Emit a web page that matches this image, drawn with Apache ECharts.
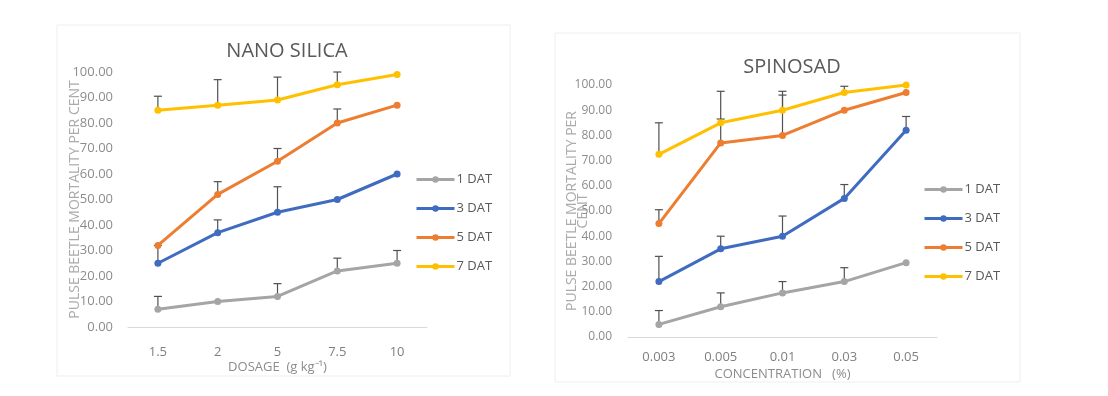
<!DOCTYPE html>
<html>
<head>
<meta charset="utf-8">
<script src="https://cdn.jsdelivr.net/npm/echarts@6/dist/echarts.min.js"></script>
<style>
html,body{margin:0;padding:0;background:#fff;}
#c{width:1108px;height:396px;}
</style>
</head>
<body>
<div id="c"></div>
<script>
// ---- data ----
var seriesNames = ['1 DAT', '3 DAT', '5 DAT', '7 DAT'];
var nanoCats = ['1.5', '2', '5', '7.5', '10'];
var nano1 = [7, 10, 12, 22, 25];
var nano3 = [25, 37, 45, 50, 60];
var nano5 = [32, 52, 65, 80, 87];
var nano7 = [85, 87, 89, 95, 99];
var nano1Err = [5, 0, 5, 5, 5];
var nano3Err = [7, 5, 10, 0, 0];
var nano5Err = [0, 5, 5, 5.5, 0];
var nano7Err = [5.5, 10, 9, 5, 0];

var spinCats = ['0.003', '0.005', '0.01', '0.03', '0.05'];
var spin1 = [5, 12, 17.5, 22, 29.5];
var spin3 = [22, 35, 40, 55, 82];
var spin5 = [45, 77, 80, 90, 97];
var spin7 = [72.5, 85, 90, 97, 100];
var spin1Err = [5.5, 5.5, 4.5, 5.5, 0];
var spin3Err = [10, 5, 8, 5.5, 5.5];
var spin5Err = [5.5, 9.5, 16, 0, 0];
var spin7Err = [12.5, 12.5, 7.5, 2.5, 0];

var colors = ['#A5A5A5', '#3F6CC0', '#ED7D31', '#FFC000'];

var chart = echarts.init(document.getElementById('c'), null, {renderer: 'canvas'});

function lineSeries(name, data, idx, axisIdx) {
  return {
    name: name, type: 'line', data: data,
    xAxisIndex: axisIdx, yAxisIndex: axisIdx,
    symbol: 'circle', symbolSize: 7,
    lineStyle: {width: 3, color: colors[idx]},
    itemStyle: {color: colors[idx]},
    z: 3
  };
}
function errSeries(vals, errs, axisIdx) {
  var d = vals.map(function (v, i) { return [i, v, errs[i]]; });
  return {
    type: 'custom', xAxisIndex: axisIdx, yAxisIndex: axisIdx, z: 2,
    silent: true, legendHoverLink: false,
    data: d,
    renderItem: function (params, api) {
      var e = api.value(2);
      if (!e) return null;
      var x = api.value(0), v = api.value(1);
      var p0 = api.coord([x, v]);
      var p1 = api.coord([x, v + e]);
      var st = {stroke: '#505050', lineWidth: 1.2};
      return {
        type: 'group',
        children: [
          {type: 'line', shape: {x1: p0[0], y1: p0[1], x2: p1[0], y2: p1[1]}, style: st},
          {type: 'line', shape: {x1: p1[0] - 4, y1: p1[1], x2: p1[0] + 4, y2: p1[1]}, style: st}
        ]
      };
    }
  };
}

var yLabel = function (v) { return v.toFixed(2); };
var font = 'Open Sans, Liberation Sans, sans-serif';

var option = {
  backgroundColor: '#ffffff',
  animation: false,
  textStyle: {fontFamily: font},
  graphic: [
    {type: 'rect', shape: {x: 57, y: 25, width: 453, height: 351}, style: {fill: 'none', stroke: '#eceef3', lineWidth: 1}, z: -1},
    {type: 'rect', shape: {x: 555, y: 33, width: 465, height: 349}, style: {fill: 'none', stroke: '#eceef3', lineWidth: 1}, z: -1}
  ],
  title: [
    {text: 'NANO SILICA', left: 282, top: 36, textAlign: 'center',
     textStyle: {fontSize: 20, fontWeight: 'normal', color: '#595959', fontFamily: font}},
    {text: 'SPINOSAD', left: 787, top: 52, textAlign: 'center',
     textStyle: {fontSize: 20, fontWeight: 'normal', color: '#595959', fontFamily: font}}
  ],
  legend: [
    {data: seriesNames, orient: 'vertical', left: 410, top: 168, itemGap: 16,
     itemWidth: 38, itemHeight: 8, lineStyle: {width: 3},
     textStyle: {fontSize: 13, color: '#595959', padding: [0, 0, 0, -3]},
     selectedMode: false},
    {data: seriesNames, orient: 'vertical', left: 918, top: 178, itemGap: 16,
     itemWidth: 38, itemHeight: 8, lineStyle: {width: 3},
     textStyle: {fontSize: 13, color: '#595959', padding: [0, 0, 0, -3]},
     selectedMode: false}
  ],
  grid: [
    {left: 128, right: 681, top: 72, bottom: 69},
    {left: 628, right: 171, top: 85, bottom: 59}
  ],
  xAxis: [
    {type: 'category', gridIndex: 0, data: nanoCats, boundaryGap: true,
     axisLine: {lineStyle: {color: '#d9d9d9', width: 1}}, axisTick: {show: false},
     axisLabel: {color: '#7f7f7f', fontSize: 13, margin: 19},
     name: 'DOSAGE  (g kg\u207B\u00B9)', nameLocation: 'middle', nameGap: 34, nameMoveOverlap: false,
     nameTextStyle: {color: '#8c8c8c', fontSize: 13}},
    {type: 'category', gridIndex: 1, data: spinCats, boundaryGap: true,
     axisLine: {lineStyle: {color: '#d9d9d9', width: 1}}, axisTick: {show: false},
     axisLabel: {color: '#7f7f7f', fontSize: 13, margin: 14},
     name: 'CONCENTRATION   (%)', nameLocation: 'middle', nameGap: 31, nameMoveOverlap: false,
     nameTextStyle: {color: '#8c8c8c', fontSize: 13}}
  ],
  yAxis: [
    {type: 'value', gridIndex: 0, min: 0, max: 100, interval: 10,
     axisLine: {show: false}, axisTick: {show: false}, splitLine: {show: false},
     axisLabel: {formatter: yLabel, color: '#8c8c8c', fontSize: 13, margin: 15},
     name: 'PULSE BEETLE MORTALITY PER CENT', nameLocation: 'middle', nameGap: 46, nameMoveOverlap: false,
     nameTextStyle: {color: '#ababab', fontSize: 14}},
    {type: 'value', gridIndex: 1, min: 0, max: 100, interval: 10,
     axisLine: {show: false}, axisTick: {show: false}, splitLine: {show: false},
     axisLabel: {formatter: yLabel, color: '#8c8c8c', fontSize: 12, margin: 16},
     name: 'PULSE BEETLE MORTALITY PER\nCENT', nameLocation: 'middle', nameGap: 39, nameMoveOverlap: false,
     nameTextStyle: {color: '#ababab', fontSize: 14, lineHeight: 11}}
  ],
  series: [
    errSeries(nano1, nano1Err, 0),
    errSeries(nano3, nano3Err, 0),
    errSeries(nano5, nano5Err, 0),
    errSeries(nano7, nano7Err, 0),
    lineSeries('1 DAT', nano1, 0, 0),
    lineSeries('3 DAT', nano3, 1, 0),
    lineSeries('5 DAT', nano5, 2, 0),
    lineSeries('7 DAT', nano7, 3, 0),
    errSeries(spin1, spin1Err, 1),
    errSeries(spin3, spin3Err, 1),
    errSeries(spin5, spin5Err, 1),
    errSeries(spin7, spin7Err, 1),
    lineSeries('1 DAT', spin1, 0, 1),
    lineSeries('3 DAT', spin3, 1, 1),
    lineSeries('5 DAT', spin5, 2, 1),
    lineSeries('7 DAT', spin7, 3, 1)
  ]
};
chart.setOption(option);
</script>
</body>
</html>
